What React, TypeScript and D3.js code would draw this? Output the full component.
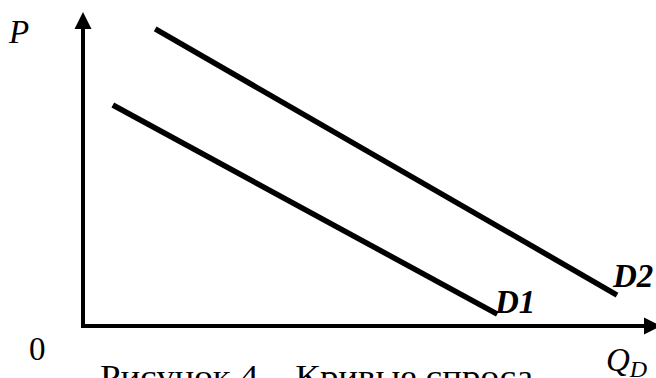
import React from "react";
import * as d3 from "d3";

const W = 656;
const H = 378;

// Demand curves (data units: quantity 0..100, price 0..100)
const curveNames = ["D1", "D2"];
const curveQ = [
  [5.2, 72.3],
  [12.6, 93.2],
];
const curveP = [
  [70.6, 3.8],
  [94.9, 9.9],
];

const caption = "Рисунок 4 – Кривые спроса";

export default function App() {
  const x = d3.scaleLinear().domain([0, 100]).range([83, 656]);
  const y = d3.scaleLinear().domain([0, 100]).range([326, 13]);
  const line = d3
    .line<[number, number]>()
    .x((d) => x(d[0]))
    .y((d) => y(d[1]));

  const ox = x(0);
  const oy = y(0);
  const fontStyle: React.CSSProperties = {
    fontFamily:
      "'Liberation Serif', 'DejaVu Serif', 'Noto Serif', FreeSerif, 'Nimbus Roman', Tinos, Times, serif",
  };

  return (
    <div style={{ position: "fixed", left: 0, top: 0, width: W, height: H, background: "#fff" }}>
      <svg width={W} height={H} style={{ display: "block", overflow: "hidden" }}>
        <rect width={W} height={H} fill="#fff" />
        {/* Y axis */}
        <line x1={ox} y1={oy + 2} x2={ox} y2={28} stroke="#000" strokeWidth={4} />
        <polygon points={`${ox},${12} ${ox - 8.5},${29} ${ox + 8.5},${29}`} fill="#000" />
        {/* X axis */}
        <line x1={ox - 2} y1={oy} x2={646} y2={oy} stroke="#000" strokeWidth={4} />
        <polygon points={`${661},${oy} ${644},${oy - 8.5} ${644},${oy + 8.5}`} fill="#000" />
        {/* Curves */}
        {curveNames.map((n, i) => {
          const pts: [number, number][] = curveQ[i].map((q, j) => [q, curveP[i][j]]);
          return (
            <path key={n} d={line(pts) || ""} fill="none" stroke="#000" strokeWidth={5.5} strokeLinecap="butt" />
          );
        })}
        {/* Labels */}
        <g style={fontStyle}>
          <text x={9} y={43} fontStyle="italic" fontSize={33}>P</text>
          <text x={29} y={360} fontSize={33}>0</text>
          <text x={495} y={313} fontStyle="italic" fontWeight="bold" fontSize={33}>D1</text>
          <text x={613} y={287} fontStyle="italic" fontWeight="bold" fontSize={33}>D2</text>
          <text x={606} y={371} fontStyle="italic" fontSize={33}>
            Q<tspan fontSize={24} dy={6}>D</tspan>
          </text>
          <text x={100} y={387} fontSize={32} textLength={433} lengthAdjust="spacingAndGlyphs">
            {caption}
          </text>
        </g>
      </svg>
    </div>
  );
}
